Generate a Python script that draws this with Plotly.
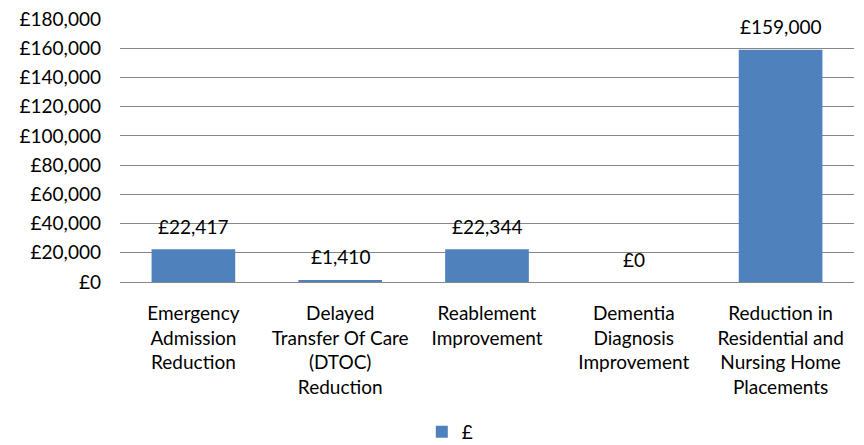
import plotly.graph_objects as go

categories = [
    "Emergency<br>Admission<br>Reduction",
    "Delayed<br>Transfer Of Care<br>(DTOC)<br>Reduction",
    "Reablement<br>Improvement",
    "Dementia<br>Diagnosis<br>Improvement",
    "Reduction in<br>Residential and<br>Nursing Home<br>Placements",
]
values = [22417, 1410, 22344, 0, 159000]
value_labels = ["£22,417", "£1,410", "£22,344", "£0", "£159,000"]
tick_vals = [0, 20000, 40000, 60000, 80000, 100000, 120000, 140000, 160000, 180000]
tick_text = ["£0", "£20,000", "£40,000", "£60,000", "£80,000", "£100,000",
             "£120,000", "£140,000", "£160,000", "£180,000"]
series_name = "£"

FONT = "Lato"
FS = 19
fig = go.Figure()
fig.add_trace(go.Bar(x=categories, y=values, name=series_name,
                     marker=dict(color="#4F81BD", line=dict(width=0)),
                     showlegend=True))
for c, v, t in zip(categories, values, value_labels):
    fig.add_annotation(x=c, y=v, text=t, showarrow=False, yshift=23,
                       font=dict(family=FONT, size=FS, color="#000000"))

fig.update_layout(
    width=856, height=437,
    margin=dict(l=112, r=10, t=11, b=163, autoexpand=False),
    paper_bgcolor="white", plot_bgcolor="white",
    bargap=0.43,
    font=dict(family=FONT, size=FS, color="#000000"),
    legend=dict(orientation="h", x=0.45, xanchor="center", y=-0.57, yanchor="middle",
                font=dict(family=FONT, size=FS), itemwidth=30),
    xaxis=dict(showline=True, linecolor="#868686", linewidth=1, ticks="",
               tickangle=0, ticklabelstandoff=14, automargin=False),
    yaxis=dict(range=[0, 180000], tickvals=tick_vals, ticktext=tick_text,
               showgrid=True, gridcolor="#868686", gridwidth=1,
               zeroline=False, ticks="", ticklabelstandoff=18, automargin=False,
               ticklabeloverflow="allow"),
)
fig.write_html("out.html")
